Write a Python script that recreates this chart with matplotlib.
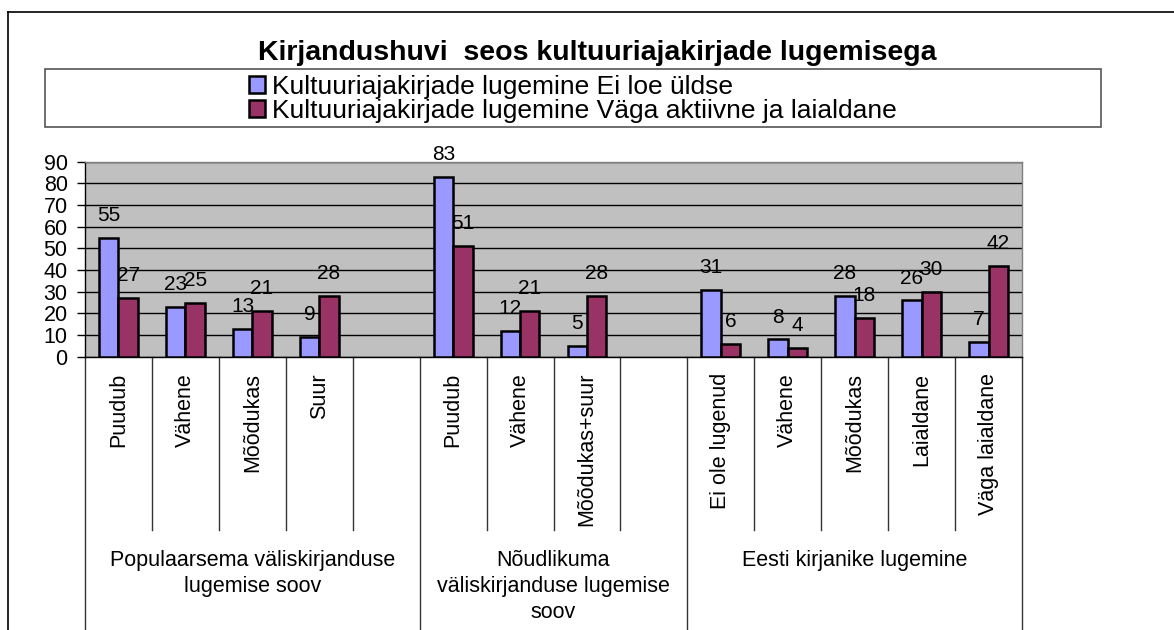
import numpy as np
import matplotlib
matplotlib.use("Agg")
import matplotlib.pyplot as plt
from matplotlib.patches import Patch, Rectangle
from matplotlib.lines import Line2D
import matplotlib.transforms as mtransforms

plt.rcParams['font.family'] = ['Liberation Sans', 'DejaVu Sans']

# Data
title = 'Kirjandushuvi  seos kultuuriajakirjade lugemisega'
series_names = ['Kultuuriajakirjade lugemine Ei loe üldse',
                'Kultuuriajakirjade lugemine Väga aktiivne ja laialdane']
categories = ['Puudub', 'Vähene', 'Mõõdukas', 'Suur', '',
              'Puudub', 'Vähene', 'Mõõdukas+suur', '',
              'Ei ole lugenud', 'Vähene', 'Mõõdukas', 'Laialdane', 'Väga laialdane']
ei_loe = [55, 23, 13, 9, None, 83, 12, 5, None, 31, 8, 28, 26, 7]
vaga_aktiivne = [27, 25, 21, 28, None, 51, 21, 28, None, 6, 4, 18, 30, 42]
groups = ['Populaarsema väliskirjanduse\nlugemise soov',
          'Nõudlikuma\nväliskirjanduse lugemise\nsoov',
          'Eesti kirjanike lugemine']
group_bounds = [(-0.5, 4.5), (4.5, 8.5), (8.5, 13.5)]

colors = ['#9999FF', '#993366']

W, H = 1174, 630
def fx(p): return p / W
def fy(p): return 1 - p / H

fig = plt.figure(figsize=(W / 100, H / 100), dpi=100)

ax_top, ax_bot = 161.7, 356.7
ax_h = ax_bot - ax_top
ax = fig.add_axes([fx(85), fy(ax_bot), fx(1022) - fx(85), ax_h / H])
ax.set_facecolor('#C0C0C0')

x = np.arange(len(categories))
w = 0.29
for vals, col, off in [(ei_loe, colors[0], -w / 2), (vaga_aktiivne, colors[1], w / 2)]:
    for xi, v in zip(x, vals):
        if v is None:
            continue
        ax.bar(xi + off, v, w, color=col, edgecolor='black', linewidth=1.8, zorder=3)
        ax.annotate(str(v), (xi + off, v), xytext=(0, 16), textcoords='offset points',
                    ha='center', va='center', fontsize=15, zorder=4)

ax.set_xlim(-0.5, len(categories) - 0.5)
ax.set_ylim(0, 90)
ax.set_yticks(np.arange(0, 91, 10))
ax.tick_params(axis='y', labelsize=15.5, length=6, width=1, pad=6.5, direction='out')
ax.set_xticks([])
ax.yaxis.grid(True, color='black', linewidth=1)
ax.set_axisbelow(True)
for s in ['left', 'bottom']:
    ax.spines[s].set_color('black')
    ax.spines[s].set_linewidth(1)
for s in ['top', 'right']:
    ax.spines[s].set_color('#808080')
    ax.spines[s].set_linewidth(1)

# category axis separators and labels
trans = mtransforms.blended_transform_factory(ax.transData, ax.transAxes)
short_y = -(530 - ax_bot) / ax_h
long_y = -(640 - ax_bot) / ax_h
group_edges = {-0.5, 4.5, 8.5, 13.5}
for b in np.arange(-0.5, len(categories), 1.0):
    y_end = long_y if b in group_edges else short_y
    ax.add_line(Line2D([b, b], [0, y_end], transform=trans, color='#333333',
                       linewidth=1, clip_on=False))

lab_y = -(373 - ax_bot) / ax_h
for xi, c in zip(x, categories):
    if c:
        ax.text(xi, lab_y, c, transform=trans, rotation=90, ha='center', va='top',
                fontsize=15.5)

grp_y = -(550 - ax_bot) / ax_h
for (a, b), g in zip(group_bounds, groups):
    ax.text((a + b) / 2, grp_y, g, transform=trans, ha='center', va='top',
            fontsize=15.5, linespacing=1.3)

# title
fig.text(fx(597.5), fy(60), title, ha='center', va='baseline', fontsize=20.5,
         fontweight='bold')

# legend
fig.add_artist(Rectangle((fx(45), fy(127)), fx(1101) - fx(45), (127 - 69) / H,
                         transform=fig.transFigure, fill=False, edgecolor='#555555',
                         linewidth=1.2))
handles = [Patch(facecolor=c, edgecolor='black', linewidth=1.8) for c in colors]
fig.legend(handles, series_names, loc='center', bbox_to_anchor=(fx(573), fy(99)),
           bbox_transform=fig.transFigure, frameon=False, fontsize=19,
           handlelength=0.6, handleheight=0.6, handletextpad=0.3,
           labelspacing=0.0, borderpad=0, borderaxespad=0)

# outer chart border
fig.add_artist(Line2D([fx(8), fx(8)], [fy(12), 0], transform=fig.transFigure,
                      color='black', linewidth=1.2))
fig.add_artist(Line2D([fx(8), 1], [fy(12), fy(12)], transform=fig.transFigure,
                      color='black', linewidth=1.2))

fig.savefig('out.png', dpi=100)
